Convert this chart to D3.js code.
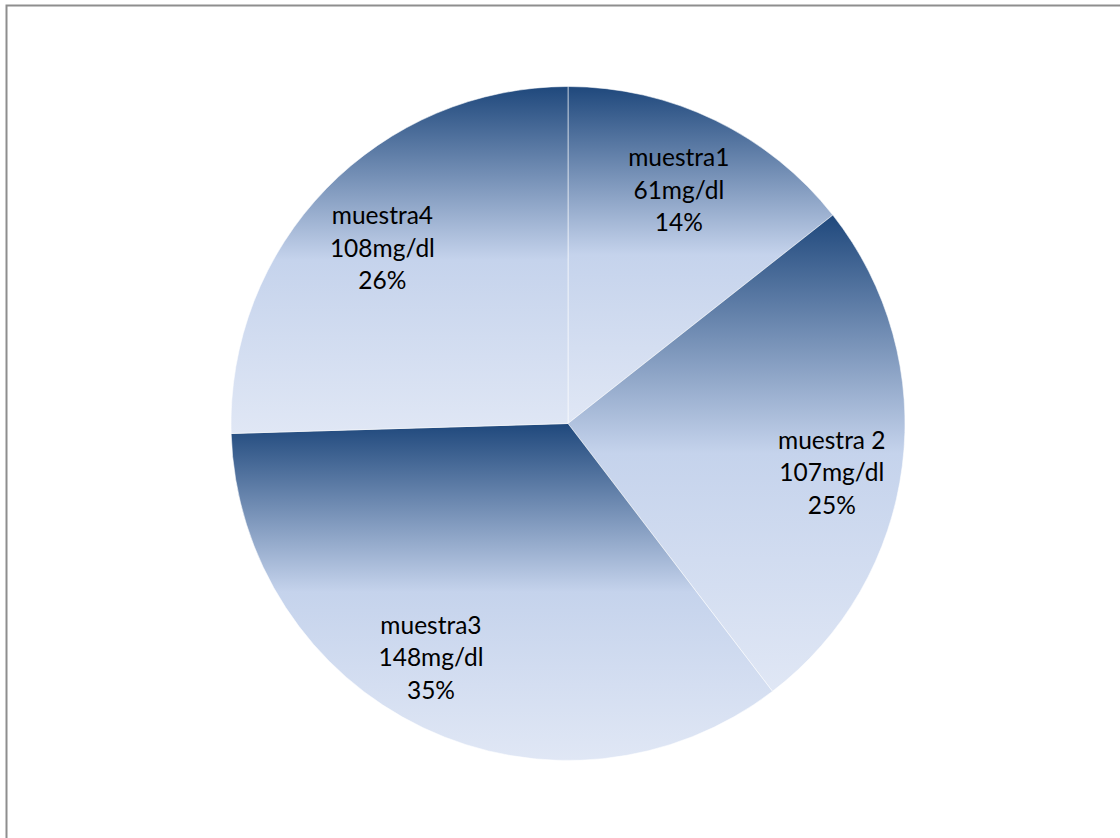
<!DOCTYPE html>
<html>
<head>
<meta charset="utf-8">
<script src="https://cdn.jsdelivr.net/npm/d3@7"></script>
<style>
  html, body { margin: 0; padding: 0; background: #fff; }
  svg { display: block; }
</style>
</head>
<body>
<svg id="chart" width="1120" height="838"></svg>
<script>
// Glucose samples (mg/dl) and their shares as printed
const categories = ["muestra1", "muestra 2", "muestra3", "muestra4"];
const values = [61, 107, 148, 108];
const units = ["61mg/dl", "107mg/dl", "148mg/dl", "108mg/dl"];
const percents = ["14%", "25%", "35%", "26%"];

const W = 1120, H = 838;
const cx = 568, cy = 423.5, R = 337;

// small per-label nudges away from the arc centroid (px)
const labelNudge = [[-4, 3], [3, 16], [-24, -3], [3, 8]];

const svg = d3.select("#chart");

// outer frame
svg.append("rect")
  .attr("x", 6.5).attr("y", 5.5)
  .attr("width", W + 20).attr("height", H + 20)
  .attr("fill", "none")
  .attr("stroke", "#8e8e8e")
  .attr("stroke-width", 2);

// vertical gradient applied per slice bounding box
const defs = svg.append("defs");
const grad = defs.append("linearGradient")
  .attr("id", "sliceFill")
  .attr("x1", 0).attr("y1", 0).attr("x2", 0).attr("y2", 1);
[[0, "#1f487c"], [0.5, "#c5d3ec"], [1, "#e0e7f5"]].forEach(([o, c]) =>
  grad.append("stop").attr("offset", o).attr("stop-color", c));

const pie = d3.pie().sort(null).value(d => d);
const arcs = pie(values);
const arc = d3.arc().innerRadius(0).outerRadius(R);
const labelArc = d3.arc().innerRadius(R * 0.78).outerRadius(R * 0.78);

const g = svg.append("g").attr("transform", `translate(${cx},${cy})`);

g.selectAll("path.slice")
  .data(arcs)
  .join("path")
  .attr("class", "slice")
  .attr("d", arc)
  .attr("fill", "url(#sliceFill)")
  .attr("stroke", "rgba(255,255,255,0.55)")
  .attr("stroke-width", 1);

const labels = g.selectAll("text.lbl")
  .data(arcs)
  .join("text")
  .attr("class", "lbl")
  .attr("transform", (d, i) => {
    const [x, y] = labelArc.centroid(d);
    return `translate(${x + labelNudge[i][0]},${y + labelNudge[i][1]})`;
  })
  .attr("text-anchor", "middle")
  .attr("font-family", "Lato, 'Open Sans', sans-serif")
  .attr("font-size", 24.5)
  .attr("fill", "#000");

labels.each(function(d, i) {
  const t = d3.select(this);
  const lines = [categories[i], units[i], percents[i]];
  lines.forEach((s, k) => {
    t.append("tspan")
      .attr("x", 0)
      .attr("y", (k - 1) * 32.5)
      .attr("dy", "0.35em")
      .text(s);
  });
});
</script>
</body>
</html>
